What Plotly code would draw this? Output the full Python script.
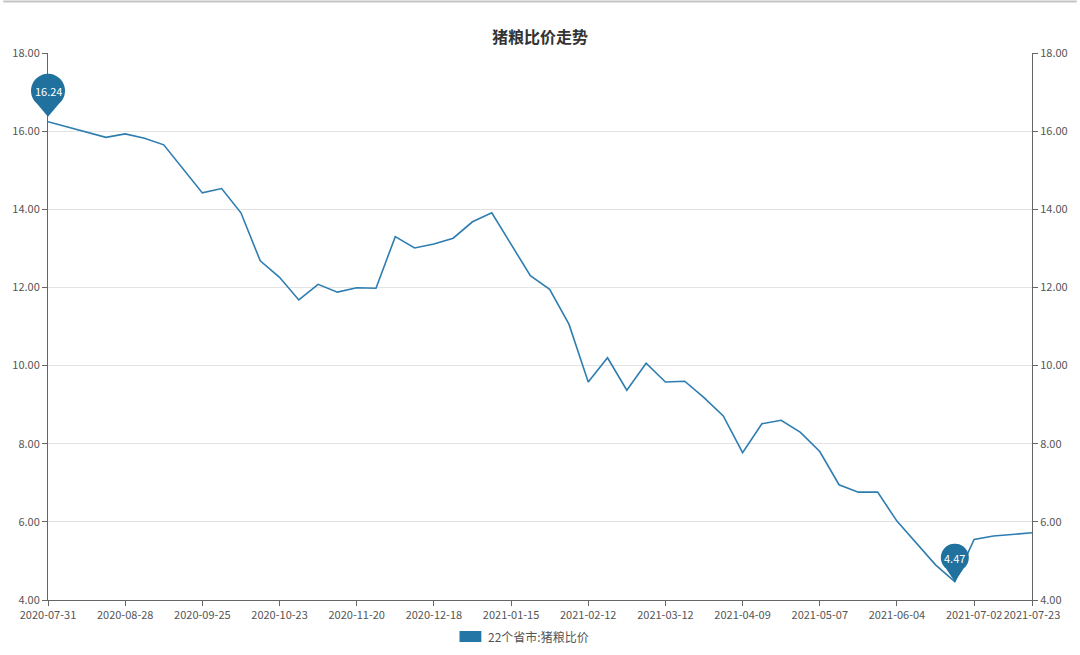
import numpy as np
import pandas as pd
import plotly.graph_objects as go

# ---- data ----
dates = [d.strftime("%Y-%m-%d") for d in pd.date_range("2020-07-31", periods=52, freq="7D")]
values = [16.24, 16.11, 15.98, 15.84, 15.93, 15.82, 15.65, 15.03, 14.42, 14.53,
          13.91, 12.68, 12.26, 11.68, 12.08, 11.88, 11.99, 11.98, 13.30, 13.01,
          13.11, 13.26, 13.68, 13.91, 13.10, 12.30, 11.95, 11.06, 9.58, 10.20,
          9.37, 10.06, 9.58, 9.60, 9.18, 8.71, 7.77, 8.51, 8.60, 8.29,
          7.80, 6.95, 6.76, 6.76, 6.02, 5.45, 4.90, 4.47, 5.55, 5.64,
          5.68, 5.72]
series_name = "22个省市:猪粮比价"
title_text = "猪粮比价走势"
y_ticks = [4, 6, 8, 10, 12, 14, 16, 18]
x_ticks = dates[::4] + [dates[-1]]
Y_MIN, Y_MAX = 4, 18

LINE = "#2e7db0"
PIN = "#21719f"
FONT = "Noto Sans CJK SC"

fig = go.Figure()
fig.add_trace(go.Scatter(x=dates, y=values, mode="lines", name=series_name,
                         line=dict(color=LINE, width=1.6), showlegend=False,
                         hovertemplate="%{x}<br>%{y:.2f}<extra></extra>"))
# invisible trace on right axis so it is drawn
fig.add_trace(go.Scatter(x=dates, y=values, mode="lines", yaxis="y2",
                         line=dict(color="rgba(0,0,0,0)"), showlegend=False,
                         hoverinfo="skip"))

def pin_path(r, h, t):
    a0 = np.deg2rad(-50)
    a1 = np.deg2rad(230)
    ang = np.linspace(a0, a1, 40)
    pts = [(0, t)] + [(r * np.cos(a), h + r * np.sin(a)) for a in ang]
    return "M " + " L ".join(f"{x:.2f},{y:.2f}" for x, y in pts) + " Z"

n = len(values)
imax = int(np.argmax(values))
imin = int(np.argmin(values))
shapes = []
annotations = []
for idx, (r, h, t, fs) in [(imax, (17, 31, 5, 11)), (imin, (14, 24, 0, 11))]:
    xa = idx / (n - 1)
    ya = (values[idx] - Y_MIN) / (Y_MAX - Y_MIN)
    shapes.append(dict(type="path", xref="paper", yref="paper", xsizemode="pixel", ysizemode="pixel",
                       xanchor=xa, yanchor=ya, path=pin_path(r, h, t),
                       fillcolor=PIN, line=dict(width=0), layer="above"))
    annotations.append(dict(x=xa, y=ya, xref="paper", yref="paper", yshift=h,
                            xanchor="center", yanchor="middle",
                            text=f"{values[idx]:.2f}", showarrow=False,
                            font=dict(family=FONT, size=fs, color="white")))

W, H = 1080, 655
L, R, T, B = 45, 45, 53, 55
pw, ph = W - L - R, H - T - B
def px(x): return (x - L) / pw
def py(y): return (H - B - y) / ph

# top border line
shapes.append(dict(type="line", xref="paper", yref="paper", x0=px(0), x1=px(W),
                   y0=py(1.5), y1=py(1.5), line=dict(color="#c4c4c4", width=2)))
# legend
shapes.append(dict(type="rect", xref="paper", yref="paper", x0=px(459), x1=px(481),
                   y0=py(642), y1=py(631), fillcolor="#2376a5", line=dict(width=0)))
annotations.append(dict(xref="paper", yref="paper", x=px(486), y=py(636.5), xanchor="left",
                        yanchor="middle", text=series_name, showarrow=False,
                        font=dict(family=FONT, size=12, color="#555")))

axis_common = dict(range=[Y_MIN, Y_MAX], tickvals=y_ticks, tickformat=".2f",
                   tickfont=dict(family=FONT, size=11, color="#555"),
                   showline=True, linecolor="#666", linewidth=1,
                   ticks="outside", ticklen=5, tickcolor="#666", zeroline=False)

fig.update_layout(
    width=W, height=H,
    margin=dict(l=L, r=R, t=T, b=B),
    paper_bgcolor="white", plot_bgcolor="white",
    title=dict(text=f"<b>{title_text}</b>", x=0.5, xanchor="center", y=1 - 37 / H, yanchor="middle",
               font=dict(family=FONT, size=16, color="#333")),
    xaxis=dict(type="category", range=[0, n - 1], tickvals=x_ticks, ticktext=x_ticks,
               tickangle=0, tickfont=dict(family=FONT, size=11, color="#555"),
               showline=True, linecolor="#666", ticks="outside", ticklen=5, tickcolor="#666",
               showgrid=False),
    yaxis=dict(side="left", showgrid=True, gridcolor="#e3e3e3", gridwidth=1, **axis_common),
    yaxis2=dict(side="right", overlaying="y", showgrid=False, **axis_common),
    shapes=shapes, annotations=annotations,
    showlegend=False,
)

fig.write_html("out.html", config={"displayModeBar": False},
               post_script="document.body.style.margin='0';document.body.style.padding='0';")
